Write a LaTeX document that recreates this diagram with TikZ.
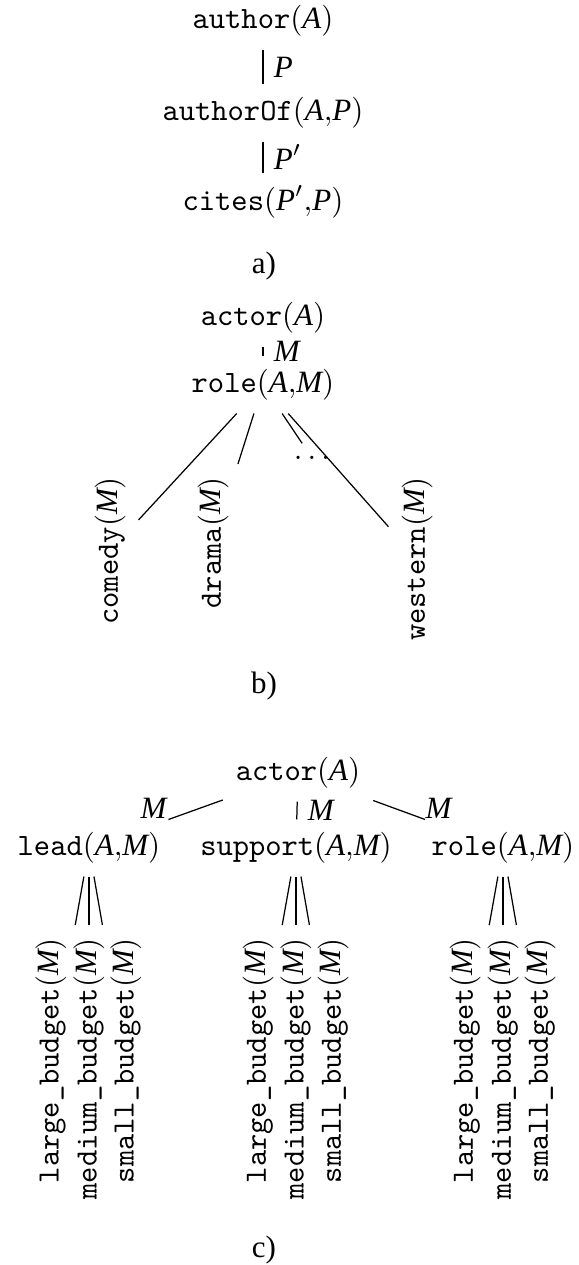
\documentclass[tikz,border=0pt]{standalone}
\usepackage{fontspec}
\setmainfont{Liberation Serif}

\newcommand{\pn}[1]{\texttt{#1}}
\newcommand{\vn}[1]{\textit{#1}}

\tikzset{
  pred/.style={inner sep=4pt},
  leaf/.style={inner sep=4pt, rotate=90, anchor=east},
  elab/.style={inner sep=0pt}
}

\begin{document}
\begin{tikzpicture}[x=0.3226pt, y=-0.3226pt]
\useasboundingbox (0,0) rectangle (579,1265);

%a) authors
\node[pred] (author) at (263,21) {\pn{author}$(\vn{A})$};
\node[pred] (authorof) at (263,113) {\pn{authorOf}$(\vn{A}{,}\vn{P})$};
\node[pred] (cites) at (263,202) {\pn{cites}$(\vn{P}'{,}\vn{P})$};
\draw (author) -- node[right] {\vn{P}} (authorof);
\draw (authorof) -- node[right] {$\vn{P}'$} (cites);
\node (capa) at (264,266) {a)};

%b) one role, genres below
\node[pred] (actorb) at (263,318) {\pn{actor}$(\vn{A})$};
\node[pred] (roleb) at (263,385) {\pn{role}$(\vn{A}{,}\vn{M})$};
\draw (actorb) -- node[right] {\vn{M}} (roleb);

\node[leaf] (comedy) at (110,464) {\pn{comedy}$(\vn{M})$};
\node[leaf] (drama) at (213,464) {\pn{drama}$(\vn{M})$};
\node[pred] (dots) at (312,458) {$\ldots$};
\node[leaf] (western) at (417,464) {\pn{western}$(\vn{M})$};
\draw (roleb) -- (comedy);
\draw (roleb) -- (drama);
\draw (roleb) -- (dots);
\draw (roleb) -- (western);
\node (capb) at (264,686) {b)};

%c) three roles, budgets below
\node[pred] (actorc) at (298,773) {\pn{actor}$(\vn{A})$};
\node[pred] (lead) at (89,848) {\pn{lead}$(\vn{A}{,}\vn{M})$};
\node[pred] (supp) at (296,848) {\pn{support}$(\vn{A}{,}\vn{M})$};
\node[pred] (rolec) at (503,848) {\pn{role}$(\vn{A}{,}\vn{M})$};
\draw (actorc) -- node[elab, pos=1, anchor=south east] {\vn{M}} (lead);
\draw (actorc) -- node[right] {\vn{M}} (supp);
\draw (actorc) -- node[elab, pos=1, anchor=south west] {\vn{M}} (rolec);

\foreach \p/\gx in {lead/89, supp/296, rolec/503} {
  \node[leaf] (\p-l) at (\gx-38,925) {\pn{large\_budget}$(\vn{M})$};
  \node[leaf] (\p-m) at (\gx,925) {\pn{medium\_budget}$(\vn{M})$};
  \node[leaf] (\p-s) at (\gx+37,925) {\pn{small\_budget}$(\vn{M})$};
  \draw (\p) -- (\p-l);
  \draw (\p) -- (\p-m);
  \draw (\p) -- (\p-s);
}
\node (capc) at (264,1250) {c)};

\end{tikzpicture}
\end{document}
